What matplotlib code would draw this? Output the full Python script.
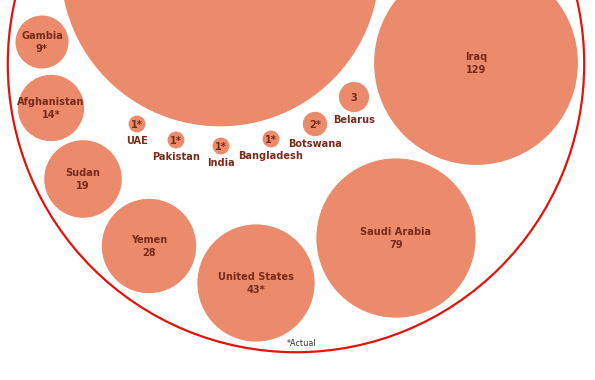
import numpy as np
import matplotlib
matplotlib.use("Agg")
import matplotlib.pyplot as plt
from matplotlib.patches import Circle

# -----------------------------
# Data (executions, 2012)
# -----------------------------
countries = ["Iran", "Iraq", "Saudi Arabia", "United States", "Yemen", "Sudan",
             "Afghanistan", "Gambia", "Belarus", "Botswana", "Bangladesh",
             "India", "Pakistan", "UAE"]
executions = [314, 129, 79, 43, 28, 19, 14, 9, 3, 2, 1, 1, 1, 1]
actual = [False, False, False, True, False, False, True, True, False, True,
          True, True, True, True]

china_value = 1020  # drawn as the outline ring

# bubble layout (pixel positions of centres)
x_pos = [220, 476, 396, 256, 149, 83, 51, 42, 354, 315, 271, 221, 176, 137]
y_pos = [-33, 63, 238, 283, 246, 179, 108, 42, 97, 124, 139, 146, 140, 124]
china_xy = (296, 64)

# -----------------------------
# Style
# -----------------------------
fill_col = "#EB8B6C"
text_col = "#7A2A19"
ring_col = "#E3120B"
scale = 102.5 / np.sqrt(129)   # px radius per sqrt(unit)

fig = plt.figure(figsize=(5.95, 3.8), dpi=100)
ax = fig.add_axes([0, 0, 1, 1])
ax.set_xlim(0, 595)
ax.set_ylim(380, 0)
ax.set_aspect("equal")
ax.axis("off")

# China ring
ax.add_patch(Circle(china_xy, scale * np.sqrt(china_value), fill=False,
                    edgecolor=ring_col, linewidth=1.6, zorder=1))

font = dict(family="DejaVu Sans", stretch="condensed", weight="bold",
            color=text_col, fontsize=7.8, ha="center", va="center")

for name, val, act, x, y in zip(countries, executions, actual, x_pos, y_pos):
    r = scale * np.sqrt(val)
    ax.add_patch(Circle((x, y), r, facecolor=fill_col, edgecolor="white",
                        linewidth=0.8, zorder=2))
    if y < 0:
        # label lies above the visible crop
        continue
    val_txt = f"{val}*" if act else f"{val}"
    if val >= 5:
        ax.text(x, y - 6, name, zorder=3, **font)
        ax.text(x, y + 7, val_txt, zorder=3, **font)
    else:
        ax.text(x, y + 1, val_txt, zorder=3, **font)
        ax.text(x, y + r + 7.5, name, zorder=3, **font)

ax.text(302, 343, "*Actual", family="DejaVu Sans", stretch="condensed",
        fontsize=6.5, color="#333333", ha="center", va="center")

fig.savefig("out.png", dpi=100)
